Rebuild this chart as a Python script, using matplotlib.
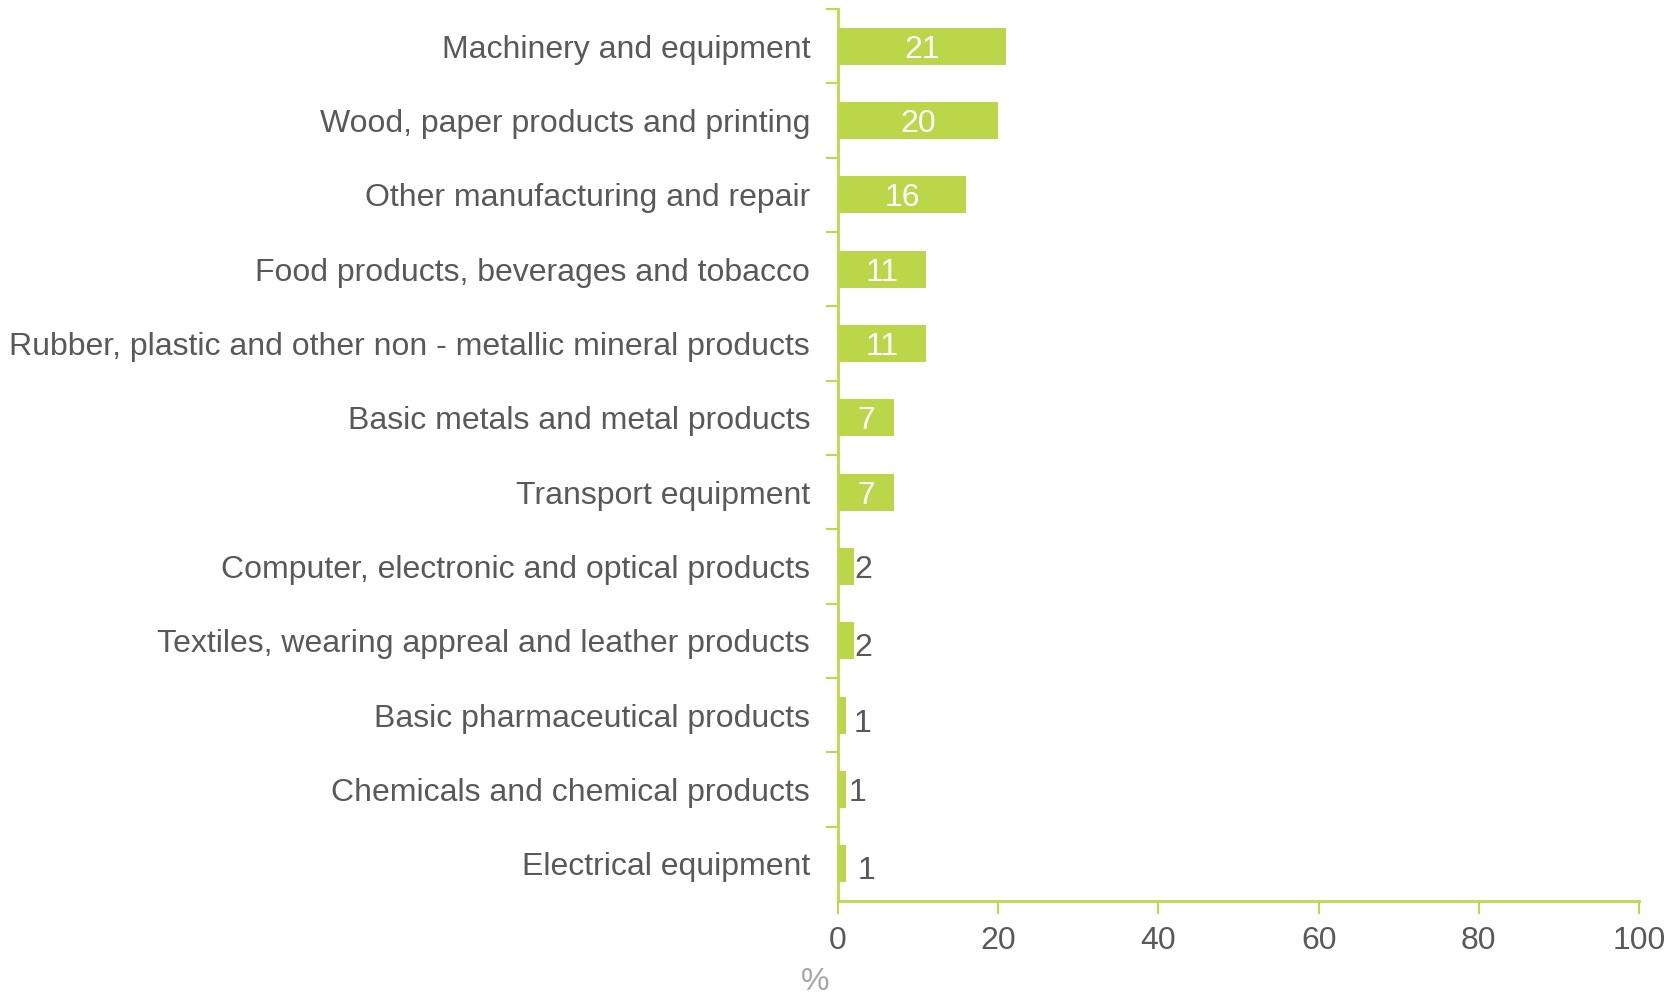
import matplotlib
matplotlib.use("Agg")
import matplotlib.pyplot as plt
import numpy as np

plt.rcParams['font.family'] = ['Liberation Sans', 'DejaVu Sans']

# data, top to bottom as in the chart
categories = [
    "Machinery and equipment",
    "Wood, paper products and printing",
    "Other manufacturing and repair",
    "Food products, beverages and tobacco",
    "Rubber, plastic and other non - metallic mineral products",
    "Basic metals and metal products",
    "Transport equipment",
    "Computer, electronic and optical products",
    "Textiles, wearing appreal and leather products",
    "Basic pharmaceutical products",
    "Chemicals and chemical products",
    "Electrical equipment",
]
values = [21, 20, 16, 11, 11, 7, 7, 2, 2, 1, 1, 1]
xticks = [0, 20, 40, 60, 80, 100]

bar_col = '#bcd64a'
axis_col = '#bfd74a'
text_col = '#595959'
fs = 23

fig = plt.figure(figsize=(16.78, 9.97), dpi=100)
ax = fig.add_axes([0.4994, 0.0963, 0.4774, 0.8947])

n = len(categories)
ypos = np.arange(n)[::-1]
ax.barh(ypos, values, height=0.5, color=bar_col, zorder=2)

# value labels: white inside big bars, grey outside the small ones
small_dy = {7: 0.0, 8: -0.05, 9: -0.07, 10: 0.0, 11: -0.05}
small_dx = {7: 0.1, 8: 0.1, 9: 0.9, 10: 0.3, 11: 1.5}
for i, (y, v) in enumerate(zip(ypos, values)):
    if v >= 5:
        ax.text(v / 2, y, str(v), ha='center', va='center_baseline',
                color='white', fontsize=fs)
    else:
        ax.text(v + small_dx[i], y + small_dy[i], str(v), ha='left',
                va='center_baseline', color=text_col, fontsize=fs)

ax.set_xlim(0, 100)
ax.set_ylim(-0.5, n - 0.5)
ax.set_xticks(xticks)
ax.set_xticklabels([str(t) for t in xticks], fontsize=fs, color=text_col)
ax.set_yticks(ypos)
ax.set_yticklabels(categories, fontsize=fs, color=text_col)
ax.set_yticks(np.arange(1, n + 1) - 0.5, minor=True)

ax.tick_params(axis='y', which='major', length=0, pad=20)
ax.tick_params(axis='y', which='minor', length=9, width=1.5, color=axis_col,
               direction='out')
ax.tick_params(axis='x', length=9, width=1.5, color=axis_col, pad=9)

for s in ['top', 'right']:
    ax.spines[s].set_visible(False)
for s in ['left', 'bottom']:
    ax.spines[s].set_color(axis_col)
    ax.spines[s].set_linewidth(2)

fig.text(815 / 1678, 1 - 982 / 997, '%', ha='center', va='center',
         fontsize=fs, color='#a6a6a6')

fig.savefig('out.png', dpi=100)
